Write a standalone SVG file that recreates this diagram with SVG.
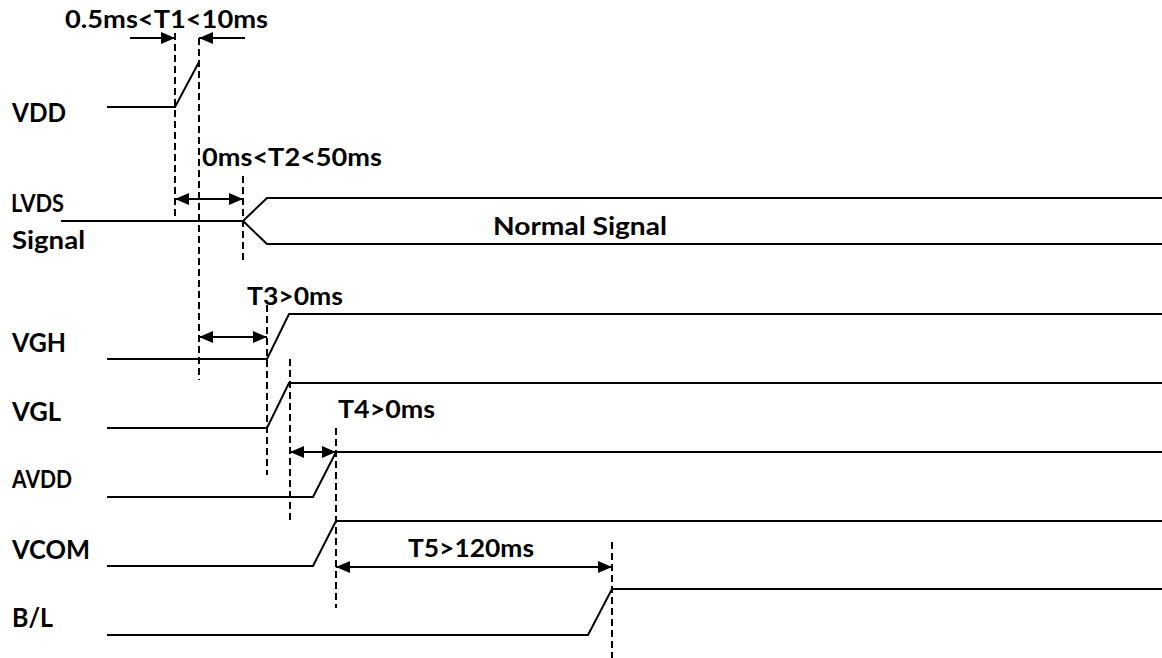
<svg xmlns="http://www.w3.org/2000/svg" width="1162" height="658" viewBox="0 0 1162 658">
<defs>
<marker id="ah" viewBox="0 0 14 12" refX="14" refY="6" markerWidth="14" markerHeight="12" markerUnits="userSpaceOnUse" orient="auto-start-reverse">
<path d="M0,0 L14,6 L0,12 Z" fill="#000"/>
</marker>
<style>
.sig{fill:none;stroke:#000;stroke-width:2}
.dash{fill:none;stroke:#000;stroke-width:2;stroke-dasharray:7 4}
.arr{fill:none;stroke:#000;stroke-width:2}
.t{font-family:Lato,"Open Sans","Liberation Sans",sans-serif;font-weight:bold;font-size:25px;fill:#000}
.big{font-size:26px}
</style>
</defs>
<rect width="1162" height="658" fill="#fff"/>
<g id="labels">
<text class="t big" x="12" y="122" textLength="54" lengthAdjust="spacingAndGlyphs">VDD</text>
<text class="t" x="11" y="212" textLength="53" lengthAdjust="spacingAndGlyphs">LVDS</text>
<text class="t" x="12" y="249" textLength="73" lengthAdjust="spacingAndGlyphs">Signal</text>
<text class="t big" x="12" y="352" textLength="54" lengthAdjust="spacingAndGlyphs">VGH</text>
<text class="t big" x="12" y="421" textLength="49" lengthAdjust="spacingAndGlyphs">VGL</text>
<text class="t" x="12" y="488" textLength="60" lengthAdjust="spacingAndGlyphs">AVDD</text>
<text class="t big" x="12" y="559" textLength="78" lengthAdjust="spacingAndGlyphs">VCOM</text>
<text class="t big" x="12" y="627" textLength="41" lengthAdjust="spacingAndGlyphs">B/L</text>
</g>
<g id="signals">
<g id="vdd"><polyline class="sig" points="107,107 175,107 199,62"/></g>
<g id="lvds">
<polyline class="sig" points="61,221 243,221 267,198 1162,198"/>
<polyline class="sig" points="243,221 267,244 1162,244"/>
<text class="t" x="493" y="235" textLength="174" lengthAdjust="spacingAndGlyphs">Normal Signal</text>
</g>
<g id="vgh"><polyline class="sig" points="107,359 267,359 289,314 1162,314"/></g>
<g id="vgl"><polyline class="sig" points="107,428 267,428 289,383 1162,383"/></g>
<g id="avdd"><polyline class="sig" points="107,497 313,497 336,452 1162,452"/></g>
<g id="vcom"><polyline class="sig" points="107,566 313,566 336,521 1162,521"/></g>
<g id="bl"><polyline class="sig" points="107,635 588,635 612,589 1162,589"/></g>
</g>
<g id="connectors">
<line class="dash" x1="175" y1="33" x2="175" y2="221"/>
<line class="dash" x1="199" y1="38" x2="199" y2="380"/>
<line class="dash" x1="243" y1="176" x2="243" y2="263"/>
<line class="dash" x1="267" y1="305" x2="267" y2="475"/>
<line class="dash" x1="290" y1="359" x2="290" y2="522"/>
<line class="dash" x1="336" y1="428" x2="336" y2="608"/>
<line class="dash" x1="612" y1="542" x2="612" y2="658"/>
<line class="arr" x1="130" y1="38" x2="175" y2="38" marker-end="url(#ah)"/>
<line class="arr" x1="245" y1="38" x2="199" y2="38" marker-end="url(#ah)"/>
<line class="arr" x1="175" y1="199" x2="243" y2="199" marker-start="url(#ah)" marker-end="url(#ah)"/>
<line class="arr" x1="199" y1="337" x2="267" y2="337" marker-start="url(#ah)" marker-end="url(#ah)"/>
<line class="arr" x1="290" y1="452" x2="336" y2="452" marker-start="url(#ah)" marker-end="url(#ah)"/>
<line class="arr" x1="336" y1="567" x2="612" y2="567" marker-start="url(#ah)" marker-end="url(#ah)"/>
</g>
<g id="timing-labels">
<text class="t" x="65" y="28" textLength="203" lengthAdjust="spacingAndGlyphs">0.5ms&lt;T1&lt;10ms</text>
<text class="t" x="202" y="166" textLength="180" lengthAdjust="spacingAndGlyphs">0ms&lt;T2&lt;50ms</text>
<text class="t" x="247" y="305" textLength="96" lengthAdjust="spacingAndGlyphs">T3&gt;0ms</text>
<text class="t" x="338" y="418" textLength="97" lengthAdjust="spacingAndGlyphs">T4&gt;0ms</text>
<text class="t" x="408" y="557" textLength="126" lengthAdjust="spacingAndGlyphs">T5&gt;120ms</text>
</g>
</svg>
